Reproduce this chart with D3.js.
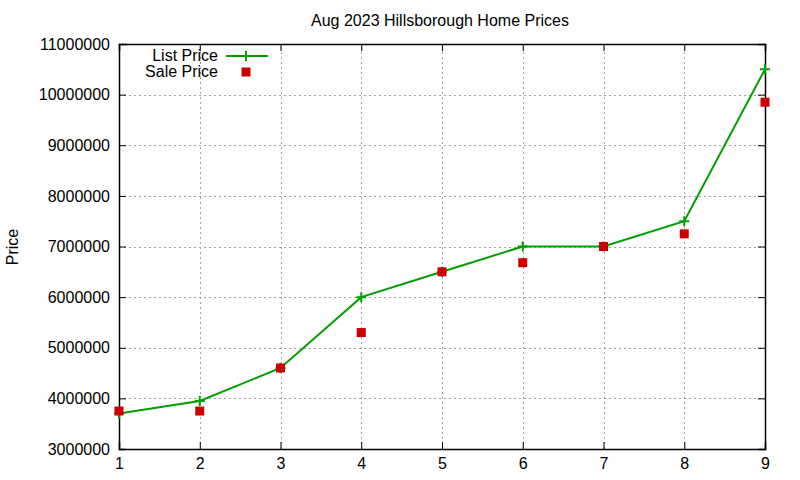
<!DOCTYPE html>
<html>
<head>
<meta charset="utf-8">
<script src="https://cdn.jsdelivr.net/npm/d3@7"></script>
<style>
  body { margin: 0; background: #fff; }
  text { font-family: "Liberation Sans", Arial, sans-serif; fill: #000; }
</style>
</head>
<body>
<script>
"use strict"

/* dati */
const mesi = [1, 2, 3, 4, 5, 6, 7, 8, 9];
const prezziListino = [3700000, 3950000, 4600000, 6000000, 6500000, 7000000, 7000000, 7500000, 10500000];
const prezziVendita = [3750000, 3750000, 4600000, 5300000, 6500000, 6680000, 7000000, 7250000, 9850000];
const tickY = [3000000, 4000000, 5000000, 6000000, 7000000, 8000000, 9000000, 10000000, 11000000];

const larghezza = 800, altezza = 480;
const margine = { sinistra: 119, destra: 35, alto: 44, basso: 31 };

const svg = d3.select("body").append("svg")
    .attr("width", larghezza)
    .attr("height", altezza);

const x = d3.scaleLinear()
    .domain([1, 9])
    .range([margine.sinistra, larghezza - margine.destra]);

const y = d3.scaleLinear()
    .domain([3000000, 11000000])
    .range([altezza - margine.basso, margine.alto]);

/* griglia tratteggiata */
const griglia = svg.append("g").attr("stroke", "#a0a0a0").attr("stroke-width", 1)
    .attr("stroke-dasharray", "2,3");
griglia.selectAll("line.gx")
    .data(mesi.slice(1, -1))
    .enter().append("line")
    .attr("x1", function (d) { return Math.round(x(d)) + 0.5 })
    .attr("x2", function (d) { return Math.round(x(d)) + 0.5 })
    .attr("y1", y(3000000))
    .attr("y2", y(11000000));
griglia.selectAll("line.gy")
    .data(tickY.slice(1, -1))
    .enter().append("line")
    .attr("y1", function (d) { return Math.round(y(d)) + 0.5 })
    .attr("y2", function (d) { return Math.round(y(d)) + 0.5 })
    .attr("x1", x(1))
    .attr("x2", x(9));

/* assi con tacche interne, anche speculari */
svg.append("g")
    .attr("transform", "translate(0," + y(3000000) + ")")
    .call(d3.axisBottom(x).tickValues(mesi).tickSize(-7).tickPadding(9).tickFormat(d3.format("d")));
svg.append("g")
    .attr("transform", "translate(" + x(1) + ",0)")
    .call(d3.axisLeft(y).tickValues(tickY).tickSize(-7).tickPadding(9).tickFormat(d3.format("d")));
svg.append("g")
    .attr("transform", "translate(0," + y(11000000) + ")")
    .call(d3.axisTop(x).tickValues(mesi).tickSize(-7).tickFormat(""));
svg.append("g")
    .attr("transform", "translate(" + x(9) + ",0)")
    .call(d3.axisRight(y).tickValues(tickY).tickSize(-7).tickFormat(""));

svg.selectAll(".domain").attr("stroke", "#000").attr("stroke-width", 1.5);
svg.selectAll(".tick line").attr("stroke", "#000").attr("stroke-width", 1);
svg.selectAll(".tick text").style("font-size", "16px").style("font-family", "Liberation Sans, Arial, sans-serif");

/* serie prezzo di listino */
const linea = d3.line()
    .x(function (d, i) { return x(mesi[i]) })
    .y(function (d) { return y(d) });

svg.append("path")
    .datum(prezziListino)
    .attr("fill", "none")
    .attr("stroke", "#00a000")
    .attr("stroke-width", 2)
    .attr("d", linea);

svg.selectAll("path.croce")
    .data(prezziListino)
    .enter().append("path")
    .attr("class", "croce")
    .attr("transform", function (d, i) { return "translate(" + x(mesi[i]) + "," + y(d) + ")" })
    .attr("d", "M-5,0H5M0,-5V5")
    .attr("stroke", "#00a000")
    .attr("stroke-width", 2);

/* serie prezzo di vendita */
svg.selectAll("rect.vendita")
    .data(prezziVendita)
    .enter().append("rect")
    .attr("x", function (d, i) { return x(mesi[i]) - 4.5 })
    .attr("y", function (d) { return y(d) - 4.5 })
    .attr("width", 9)
    .attr("height", 9)
    .attr("fill", "#cc0000");

/* legenda */
const legenda = svg.append("g");
legenda.append("text")
    .attr("x", 218).attr("y", 61)
    .attr("text-anchor", "end")
    .style("font-size", "16px")
    .text("List Price");
legenda.append("path")
    .attr("d", "M226,56H268M246,51V61")
    .attr("stroke", "#00a000")
    .attr("stroke-width", 2);
legenda.append("text")
    .attr("x", 218).attr("y", 77)
    .attr("text-anchor", "end")
    .style("font-size", "16px")
    .text("Sale Price");
legenda.append("rect")
    .attr("x", 241.5).attr("y", 67.5)
    .attr("width", 9).attr("height", 9)
    .attr("fill", "#cc0000");

/* titolo ed etichetta asse y */
svg.append("text")
    .attr("x", 440).attr("y", 26)
    .attr("text-anchor", "middle")
    .style("font-size", "16px")
    .text("Aug 2023 Hillsborough Home Prices");

svg.append("text")
    .attr("transform", "translate(18,247) rotate(-90)")
    .attr("text-anchor", "middle")
    .style("font-size", "16px")
    .text("Price");
</script>
</body>
</html>
